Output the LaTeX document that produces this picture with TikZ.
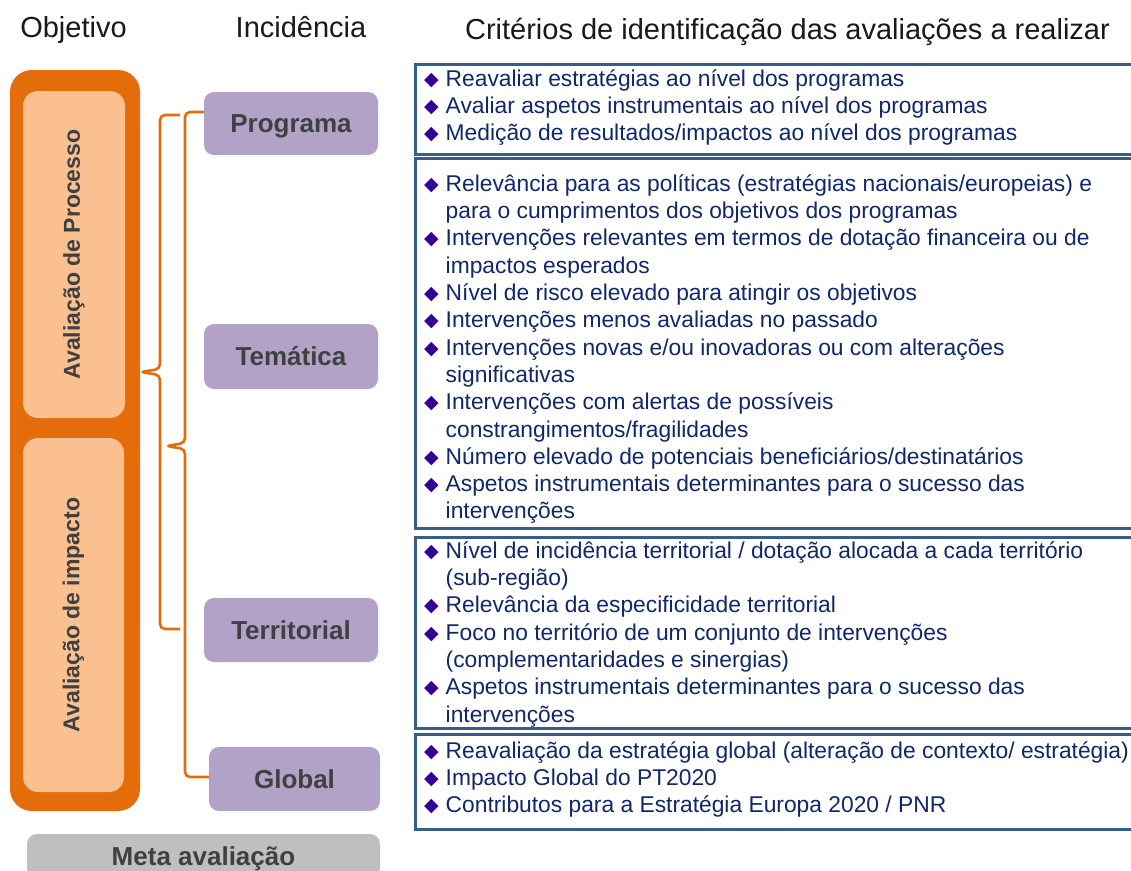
\documentclass[tikz,border=0pt]{standalone}
\usepackage{fontspec}
\setmainfont{Liberation Sans}
\newfontfamily\symfont{DejaVu Sans}
\usetikzlibrary{positioning,shadows}

\definecolor{objorange}{HTML}{E46C0A}
\definecolor{objlight}{HTML}{FAC090}
\definecolor{incpurple}{HTML}{B3A2C7}
\definecolor{labelgray}{HTML}{404040}
\definecolor{metagray}{HTML}{BFBFBF}
\definecolor{critframe}{HTML}{385D8A}
\definecolor{crittext}{HTML}{10286A}
\definecolor{bulcolor}{HTML}{330099}

\newcommand{\bul}{\strut\makebox[21.5pt][l]{\hspace{0pt}\raisebox{1pt}{\symfont\fontsize{19}{19}\selectfont\color{bulcolor}◆}}}
\newcommand{\cont}{\strut\hspace*{21.5pt}}

\begin{document}
\begin{tikzpicture}[
    x=1pt, y=-1pt,
    header/.style={anchor=base, inner sep=0, font=\fontsize{29}{33}\selectfont, text=black!90},
    outerbox/.style={fill=objorange, rounded corners=22pt, minimum width=130pt, minimum height=741pt, inner sep=0},
    objbox/.style={fill=objlight, rounded corners=15pt, inner sep=0},
    objtext/.style={rotate=90, font=\bfseries\fontsize{23}{27}\selectfont, text=labelgray},
    incbox/.style={fill=incpurple, rounded corners=10pt, inner sep=0, minimum height=64pt,
      text height=18pt, text depth=0pt,
      font=\bfseries\fontsize{26}{30}\selectfont, text=labelgray},
    metabox/.style={incbox, fill=metagray},
    critbox/.style={draw=critframe, line width=2.5pt, fill=white, inner sep=0, minimum width=740pt,
      drop shadow={shadow xshift=1.5pt, shadow yshift=-1.5pt, fill=black!25, opacity=.6}},
    crit/.style={anchor=north west, inner sep=0, align=left, text=crittext,
      font=\fontsize{22.8}{27.3}\selectfont},
    brace/.style={draw=objorange, line width=2.6pt, rounded corners=5pt}
  ]
  \useasboundingbox (0,0) rectangle (1131,870);
  \clip (0,0) rectangle (1131,870);

  % column headers
  \node[header] (hobj) at (73.5,37) {Objetivo};
  \node[header] (hinc) at (301,37) {Incidência};
  \node[header] (hcrit) at (787.5,39) {Critérios de identificação das avaliações a realizar};

  % objectives
  \node[outerbox] (obj) at (75,440.5) {};
  \node[objbox, minimum width=102pt, minimum height=327pt] (proc) at (74,254.5) {};
  \node[objtext] (proctxt) at (proc.center) {Avaliação de Processo};
  \node[objbox, minimum width=101pt, minimum height=354pt] (imp) at (73.5,615) {};
  \node[objtext] (imptxt) at (imp.center) {Avaliação de impacto};

  % incidence levels
  \node[incbox, minimum width=174pt, minimum height=63pt] (prog) at (291,123.5) {Programa};
  \node[incbox, minimum width=174pt, minimum height=65pt] (tema) at (291,356.5) {Temática};
  \node[incbox, minimum width=174pt] (terr) at (291,630) {Territorial};
  \node[incbox, minimum width=171pt] (glob) at (294.5,779) {Global};
  \node[metabox, minimum width=353pt, minimum height=44pt] (meta) at (203.5,856) {Meta avaliação};

  % braces
  \coordinate (tipproc) at (obj.east |- 0,372);
  \coordinate (tipimp) at (166,446);
  \draw[brace] (180,115) -- (160,115) -- (160,369) -- (tipproc) -- (160,375) -- (160,629) -- (180,629);
  \draw[brace] (prog.west |- 0,112) -- (185,112) -- (185,443) -- (tipimp) -- (185,449) -- (185,777) -- (glob.west |- 0,777);

  % criteria boxes
  \node[critbox, minimum height=90pt, anchor=north west] (cprog) at (414,63) {};
  \node[critbox, minimum height=370pt, anchor=north west] (ctema) at (414,157) {};
  \node[critbox, minimum height=191pt, anchor=north west] (cterr) at (414,536) {};
  \node[critbox, minimum height=95pt, anchor=north west] (cglob) at (414,733) {};

  \node[crit] (lprog) at (424,67) {%
    \bul Reavaliar estratégias ao nível dos programas\\
    \bul Avaliar aspetos instrumentais ao nível dos programas\\
    \bul Medição de resultados/impactos ao nível dos programas};
  \node[crit] (ltema) at (424,172) {%
    \bul Relevância para as políticas (estratégias nacionais/europeias) e\\
    \cont para o cumprimentos dos objetivos dos programas\\
    \bul Intervenções relevantes em termos de dotação financeira ou de\\
    \cont impactos esperados\\
    \bul Nível de risco elevado para atingir os objetivos\\
    \bul Intervenções menos avaliadas no passado\\
    \bul Intervenções novas e/ou inovadoras ou com alterações\\
    \cont significativas\\
    \bul Intervenções com alertas de possíveis\\
    \cont constrangimentos/fragilidades\\
    \bul Número elevado de potenciais beneficiários/destinatários\\
    \bul Aspetos instrumentais determinantes para o sucesso das\\
    \cont intervenções};
  \node[crit] (lterr) at (424,539) {%
    \bul Nível de incidência territorial / dotação alocada a cada território\\
    \cont (sub-região)\\
    \bul Relevância da especificidade territorial\\
    \bul Foco no território de um conjunto de intervenções\\
    \cont (complementaridades e sinergias)\\
    \bul Aspetos instrumentais determinantes para o sucesso das\\
    \cont intervenções};
  \node[crit] (lglob) at (424,739) {%
    \bul Reavaliação da estratégia global (alteração de contexto/ estratégia)\\
    \bul Impacto Global do PT2020\\
    \bul Contributos para a Estratégia Europa 2020 / PNR};
\end{tikzpicture}
\end{document}
